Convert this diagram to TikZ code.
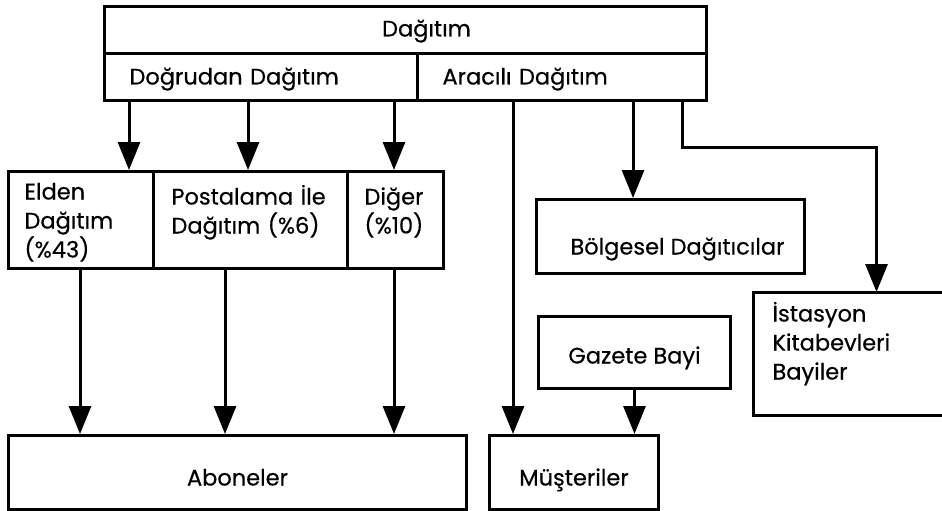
\documentclass[tikz,border=0pt]{standalone}
\usepackage{fontspec}
\setmainfont{Poppins}[FakeBold=0.5]
\usetikzlibrary{arrows.meta}
\begin{document}
\begin{tikzpicture}[x=1pt,y=-1pt,
  font=\fontsize{22.5}{29}\selectfont,
  box/.style={draw, line width=3pt, anchor=north west, inner sep=0pt},
  lbox/.style={box, align=left},
  conn/.style={line width=3pt},
  arr/.style={conn, -{Triangle[width=22pt,length=28pt]}}]
\useasboundingbox (0,0) rectangle (942,511);
% top block
\node[box, minimum width=602pt, text height=30pt, text depth=17pt] (title) at (103,5) {\hspace*{42pt}Dağıtım};
\node[lbox, minimum width=313pt, text width=263pt, text height=31pt, text depth=16pt] (dog) at (103,52) {Doğrudan Dağıtım};
\node[lbox, minimum width=289pt, text width=239pt, text height=31pt, text depth=16pt] (ara) at (416,52) {Aracılı Dağıtım};
% middle boxes
\node[lbox, minimum width=145pt, text width=113pt, text height=28pt, text depth=69pt] (eld) at (7,170) {Elden\\Dağıtım\\(\%43)};
\node[lbox, minimum width=194pt, text width=158pt, text height=33pt, text depth=64pt] (pos) at (152,170) {Postalama İle\\Dağıtım (\%6)};
\node[lbox, minimum width=96pt, text width=62pt, text height=33pt, text depth=64pt] (dig) at (346,170) {Diğer\\(\%10)};
\node[box, minimum width=268pt, text height=55pt, text depth=19pt] (bol) at (535,198) {\hspace*{14pt}Bölgesel Dağıtıcılar};
\node[box, minimum width=192pt, text height=47pt, text depth=25pt] (gaz) at (537,315) {Gazete Bayi};
\node[lbox, draw=none, minimum width=244pt, text width=208pt, text height=28pt, text depth=92pt] (ist) at (753,292) {İstasyon\\Kitabevleri\\Bayiler};
\coordinate (edge) at (942,0);
\draw[line width=3pt] (ist.north west -| edge) -- (ist.north west) -- (ist.south west) -- (ist.south west -| edge);
% bottom boxes
\node[box, minimum width=458pt, text height=50pt, text depth=24pt] (abo) at (7,434) {Aboneler};
\node[box, minimum width=169pt, text height=50pt, text depth=24pt] (mus) at (488,434) {Müşteriler};
% connector anchors
\coordinate (a1) at ([xshift=26pt]dog.south west);
\coordinate (a2) at ([xshift=145pt]dog.south west);
\coordinate (a3) at ([xshift=291pt]dog.south west);
\coordinate (b1) at ([xshift=97pt]ara.south west);
\coordinate (b2) at ([xshift=217pt]ara.south west);
\coordinate (b3) at ([xshift=266pt]ara.south west);
\coordinate (bend) at (0,147);
\coordinate (c1) at ([xshift=73pt]eld.south west);
\coordinate (c2) at ([xshift=73pt]pos.south west);
\coordinate (c3) at ([xshift=48pt]dig.south west);
% connectors
\draw[arr] (a1) -- (a1 |- eld.north);
\draw[arr] (a2) -- (a2 |- pos.north);
\draw[arr] (a3) -- (a3 |- dig.north);
\draw[arr] (b1) -- (b1 |- mus.north);
\draw[arr] (b2) -- (b2 |- bol.north);
\draw[arr] (b3) -- (b3 |- bend) -| (ist.north);
\draw[arr] (c1) -- (c1 |- abo.north);
\draw[arr] (c2) -- (c2 |- abo.north);
\draw[arr] (c3) -- (c3 |- abo.north);
\draw[arr] (gaz.south) -- (gaz.south |- mus.north);
\end{tikzpicture}
\end{document}
